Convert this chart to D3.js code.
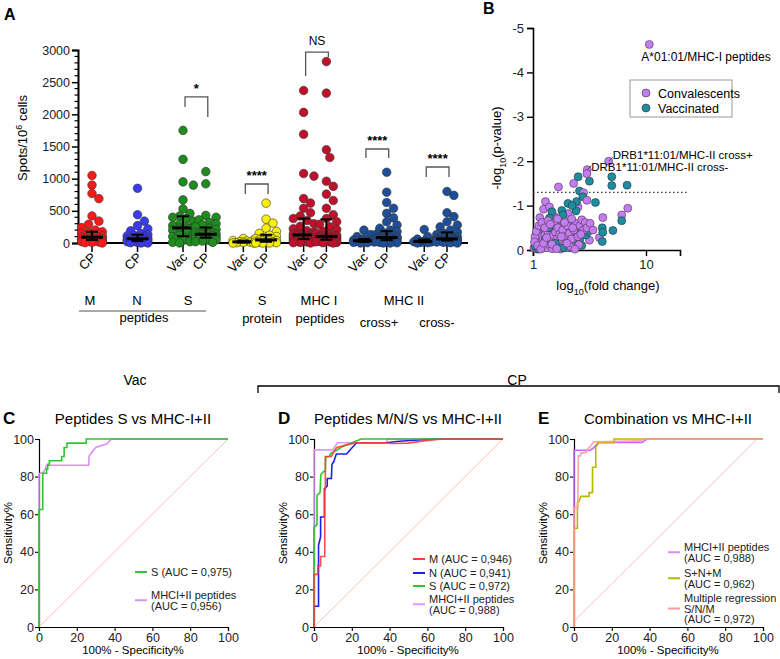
<!DOCTYPE html>
<html><head><meta charset="utf-8">
<script src="https://cdn.jsdelivr.net/npm/d3@7"></script>
<style>body{margin:0;background:#fff} svg{font-family:Arial,"Liberation Sans",Helvetica,sans-serif}</style>
</head><body>
<svg id="fig" width="780" height="659"></svg>
<script>
// ---------------- DATA ----------------
// Panel A columns
const colLabels = ["CP","CP","Vac","CP","Vac","CP","Vac","CP","Vac","CP","Vac","CP"];
const colGroups = ["M","N","S","S","Sp","Sp","I","I","IIp","IIp","IIm","IIm"];
const colColors = ["#ff1a1a","#3a3af2","#1e8c1e","#1e8c1e","#f7f000","#f7f000","#c0112b","#c0112b","#1d4f99","#1d4f99","#1d4f99","#1d4f99"];
const spotsM_CP = [1050,900,770,690,420,340,290,240,200,175,160,150,140,130,120,110,100,95,90,85,80,75,70,65,60,55,50,45,40,35,30,25,20,15,10,5,0];
const spotsN_CP = [850,440,340,270,220,190,150,130,120,110,100,90,80,70,65,60,55,50,45,40,35,30,25,20,15,10,5,0,0];
const spotsS_Vac = [1750,1300,950,900,670,530,460,420,400,380,340,300,270,250,240,230,225,220,200,180,150,120,100,80,70,60,40,20,10,0];
const spotsS_CP = [1110,920,430,400,360,320,300,280,250,230,210,190,170,160,150,145,140,135,130,125,120,110,100,95,90,85,80,75,70,60,50,40,30,20,10];
const spotsSp_Vac = [70,50,40,30,20,15,10,5,0,0];
const spotsSp_CP = [620,370,310,230,180,150,120,100,80,70,60,50,45,40,35,30,25,20,15,10,5,0,0,0];
const spotsI_Vac = [2370,2030,1690,1080,1040,690,620,540,470,420,380,350,300,260,220,190,170,150,140,130,125,120,110,105,100,90,85,80,70,65,60,50,45,40,30,25,20,15,10,5,0];
const spotsI_CP = [2820,2330,1450,1330,960,880,760,660,540,440,380,330,290,250,210,180,150,130,120,110,105,100,95,90,85,80,75,70,65,60,55,50,45,40,35,30,25,20,15,10,5,0];
const spotsIIp_Vac = [200,130,100,70,55,45,40,35,30,25,20,15,10,5,0];
const spotsIIp_CP = [1100,790,630,540,460,390,330,280,230,200,180,160,140,120,110,100,95,90,88,85,82,80,78,75,70,65,60,55,50,45,40,35,30,25,20,15,10,5,0,0];
const spotsIIm_Vac = [210,100,60,40,30,20,15,10,5,0];
const spotsIIm_CP = [800,740,470,410,330,280,250,200,170,150,130,110,95,85,75,70,65,62,60,58,55,50,48,45,40,38,35,30,25,20,15,10,5,0];
const spotsAll = [spotsM_CP,spotsN_CP,spotsS_Vac,spotsS_CP,spotsSp_Vac,spotsSp_CP,spotsI_Vac,spotsI_CP,spotsIIp_Vac,spotsIIp_CP,spotsIIm_Vac,spotsIIm_CP];
const spotTicks = [0,500,1000,1500,2000,2500,3000];
// significance brackets: [left col, right col], label, top value, left leg end, right leg end
const bracketCols = [[2,3],[4,5],[6,7],[8,9],[10,11]];
const bracketLabels = ["*","****","NS","****","****"];
const bracketTop = [2270,917,2968,1461,1181];
const bracketLegL = [2113,761,2595,1321,1026];
const bracketLegR = [1958,761,2890,1321,1026];

// Panel B: [fold change, log10 p (negative)]
const convalescents = [[10.7,-4.63],[4.68,-2.0],[3.02,-1.81],[3.0,-1.72],[2.29,-1.5],[1.68,-1.42],[2.8,-1.29],[3.0,-1.12],[2.5,-0.97],[4.15,-0.73],[6.1,-0.79],[6.9,-0.94],[3.87,-0.28],[3.16,-0.22],[1.29,-1.09],[1.24,-0.92],[1.40,-0.97],[1.55,-0.75],[2.04,-0.82],[1.15,-0.73],
[1.02,-0.05],[1.05,-0.12],[1.08,-0.02],[1.1,-0.2],[1.12,-0.08],[1.15,-0.15],[1.18,-0.3],[1.2,-0.04],[1.22,-0.22],[1.25,-0.1],[1.28,-0.35],[1.3,-0.18],[1.33,-0.05],[1.35,-0.42],[1.38,-0.27],[1.4,-0.12],[1.43,-0.5],[1.45,-0.2],[1.48,-0.03],[1.5,-0.33],[1.53,-0.6],[1.55,-0.15],[1.58,-0.4],[1.6,-0.08],[1.63,-0.25],[1.66,-0.5],[1.7,-0.12],[1.72,-0.35],[1.75,-0.02],[1.8,-0.2],[1.83,-0.45],[1.86,-0.1],[1.9,-0.3],[1.95,-0.05],[2.0,-0.55],[2.05,-0.18],[2.1,-0.38],[2.15,-0.08],[2.2,-0.25],[2.3,-0.45],[2.4,-0.6],[2.5,-0.3],[2.6,-0.55],[2.7,-0.68],[2.8,-0.45],[2.9,-0.62],[3.0,-0.5],[2.55,-0.12],[2.35,-0.02],[1.04,-0.3],[1.07,-0.42],[1.13,-0.55],[1.2,-0.62],[1.27,-0.5],[1.36,-0.66],[1.42,-0.58],[1.65,-0.7],[1.9,-0.62],[2.2,-0.7],[1.03,-0.18],[1.1,-0.1],[1.17,-0.02],[1.24,-0.15],[1.32,-0.28],[1.47,-0.13],[1.62,-0.03],[1.78,-0.3],[2.0,-0.15],[2.25,-0.5],[2.65,-0.35],[3.2,-0.6],[3.4,-0.45]];
const vaccinated = [[2.51,-1.65],[3.16,-1.55],[4.98,-1.65],[4.98,-1.45],[6.8,-1.46],[2.58,-1.33],[2.76,-1.2],[3.57,-1.07],[2.43,-1.09],[2.4,-0.88],[2.04,-1.05],[2.22,-1.0],[6.1,-0.66],[5.1,-0.44],[4.1,-0.5],[4.15,-0.4],[4.1,-0.19],[2.95,-0.34],[1.47,-0.86],[1.8,-0.89],[1.84,-0.79],[1.07,-0.37],
[1.05,-0.08],[1.1,-0.25],[1.15,-0.45],[1.2,-0.1],[1.25,-0.6],[1.3,-0.35],[1.35,-0.15],[1.4,-0.72],[1.45,-0.4],[1.5,-0.05],[1.55,-0.55],[1.6,-0.28],[1.65,-0.42],[1.7,-0.62],[1.75,-0.18],[1.8,-0.5],[1.9,-0.4],[2.0,-0.28],[2.05,-0.62],[2.1,-0.05],[2.2,-0.4],[2.3,-0.2],[2.45,-0.5],[2.6,-0.25],[2.7,-0.1],[2.85,-0.55],[3.1,-0.42],[1.12,-0.02],[1.28,-0.22],[1.38,-0.5],[1.58,-0.15],[1.85,-0.05]];
const pThreshold = -1.3;
const annotLabels = ["A*01:01/MHC-I peptides","DRB1*11:01/MHC-II cross+","DRB1*11:01/MHC-II cross-"];
const annotPoints = [[10.7,-4.63],[4.68,-2.0],[3.02,-1.81]];
const pTicks = [0,-1,-2,-3,-4,-5];
const fcTicks = [1,10];

// ROC curves [100-specificity, sensitivity]
const rocC_S = [[0,0],[0,62.5],[2,62.5],[2,81.8],[4,81.8],[4,84],[4.6,84],[4.6,86.5],[5.5,86.5],[5.5,88.4],[12,88.4],[12,90.7],[13.3,90.7],[13.3,95.5],[14.8,95.5],[14.8,97.8],[25,97.8],[25,100],[100,100]];
const rocC_MHC = [[0,0],[0,81.5],[2.5,82.5],[3.5,84.5],[4,86],[26.3,86],[26.5,91],[30,95.5],[36,97.5],[38.4,100],[100,100]];
const rocD_M = [[0,0],[0,28],[2,28],[2,32.5],[3.5,32.5],[3.5,37.5],[5.7,37.5],[5.7,73],[6,73],[6,90.7],[9.2,90.7],[10.6,93.4],[12,95.5],[18,97],[22,98],[38,98],[41,97.6],[50,97.8],[58,99],[68,100],[100,100]];
const rocD_N = [[0,0],[0,11],[2.4,11],[2.4,43.5],[3.5,48],[3.5,58.5],[5.5,58.5],[5.5,73.5],[7,75],[7,79],[9.2,79],[9.5,86.5],[10.5,88],[11.8,92],[17.2,92],[22.5,98],[38,98],[45,98.8],[55,99.5],[65,100],[100,100]];
const rocD_S = [[0,0],[0,53],[1.6,54.5],[1.6,70],[3.2,71.5],[3.6,81],[5,82.7],[6,82.7],[6.2,90.5],[8,90.7],[9,92.5],[12,94],[15,96],[20,98],[25,100],[100,100]];
const rocD_MHC = [[0,0],[0,94.2],[10,94.2],[12.3,98],[38.5,98],[38.5,100],[100,100]];
const rocE_MHC = [[0,0],[0,94],[8.5,94],[10.3,95.2],[12.9,98.2],[36,98.2],[38.6,100],[100,100]];
const rocE_SNM = [[0,0],[0,52.5],[1.8,52.5],[1.8,66],[2.8,67],[3.6,69.5],[8,69.5],[8,71.5],[9.8,71.5],[9.8,85],[11.5,85],[11.5,95.5],[12.4,97],[13,98],[21.2,98],[21.2,100],[100,100]];
const rocE_MR = [[0,0],[0,63.5],[2,63.5],[2.3,91],[3.5,91],[3.7,92.5],[6.5,93],[7.5,95],[9,96.5],[10.5,98.5],[12,98.5],[35,99],[36.8,100],[100,100]];
const rocTicks = [0,20,40,60,80,100];

// ---------------- DRAW ----------------
const svg = d3.select("#fig");
const FONT = 'Arial,"Liberation Sans",sans-serif';

// ===== Panel A =====
const gA = svg.append("g");
gA.append("text").attr("x",4).attr("y",20).attr("font-size",16).attr("font-weight","bold").text("A");
const yA = d3.scaleLinear().domain([0,3000]).range([243,50]);
const slots = []; let s = 0;
colGroups.forEach((g,i)=>{
  if(i>0){
    if(g===colGroups[i-1]) s+=1;
    else { const prevSingle = (i<2 || colGroups[i-2]!==colGroups[i-1]); s += prevSingle?2:1.65; }
  }
  slots.push(s);
});
const xA = d3.scaleLinear().domain([0, slots[slots.length-1]]).range([92,447]);

const yAxisA = d3.axisLeft(yA).tickValues(spotTicks).tickFormat(d=>String(d)).tickSize(6).tickPadding(2);
const gyA = gA.append("g").attr("transform","translate(78,0)").call(yAxisA);
gyA.select(".domain").attr("stroke-width",2);
gyA.selectAll(".tick line").attr("stroke-width",1.5);
gyA.selectAll(".tick text").attr("font-size",12.5).attr("font-family",FONT).attr("fill","#222");
gA.append("g").selectAll("line").data(d3.range(0,3001,100).filter(v=>v%500)).join("line")
  .attr("x1",78).attr("x2",74.5).attr("y1",d=>yA(d)).attr("y2",d=>yA(d)).attr("stroke","#000").attr("stroke-width",1.2);
gA.append("line").attr("x1",77).attr("x2",468).attr("y1",yA(0)).attr("y2",yA(0)).attr("stroke","#000").attr("stroke-width",2.2);
gA.append("text").attr("transform","translate(27,138) rotate(-90)").attr("text-anchor","middle").attr("font-size",13)
  .html('Spots/10<tspan baseline-shift="super" font-size="9">6</tspan> cells');

function swarm(vals, r){
  const placed=[], out=[];
  vals.slice().sort((a,b)=>b-a).forEach(v=>{
    const y=yA(v);
    let best=0, bestScore=-1;
    for(let k=0;k<15;k++){
      const c = k===0?0:(k%2?1:-1)*Math.ceil(k/2)*r*0.8;
      if(Math.abs(c)>12) break;
      let md = Infinity;
      placed.forEach(p=>{ const d=Math.hypot(p.dx-c,p.y-y); if(d<md) md=d; });
      if(md>=2*r*0.9){ best=c; bestScore=Infinity; break; }
      if(md>bestScore){ bestScore=md; best=c; }
    }
    placed.push({dx:best,y}); out.push({v,dx:best,y});
  });
  return out;
}
const rA = 4.3;
spotsAll.forEach((vals,i)=>{
  const cx = xA(slots[i]);
  gA.append("line").attr("x1",cx).attr("x2",cx).attr("y1",yA(0)).attr("y2",yA(0)+9).attr("stroke","#000").attr("stroke-width",1.5);
  const pts = swarm(vals, rA);
  gA.append("g").selectAll("circle").data(pts).join("circle")
    .attr("cx",d=>cx+d.dx).attr("cy",d=>d.y).attr("r",rA)
    .attr("fill",colColors[i]).attr("stroke","#333").attr("stroke-width",0.6);
  const sorted = vals.slice().sort(d3.ascending);
  const med = d3.quantile(sorted,0.5), q1=d3.quantile(sorted,0.25), q3=d3.quantile(sorted,0.75);
  const gm = gA.append("g").attr("stroke","#000");
  gm.append("line").attr("x1",cx).attr("x2",cx).attr("y1",yA(q1)).attr("y2",yA(q3)).attr("stroke-width",2);
  gm.append("line").attr("x1",cx-11).attr("x2",cx+11).attr("y1",yA(med)).attr("y2",yA(med)).attr("stroke-width",3);
  [q1,q3].forEach(q=>gm.append("line").attr("x1",cx-6).attr("x2",cx+6).attr("y1",yA(q)).attr("y2",yA(q)).attr("stroke-width",2));
  gA.append("text").attr("transform",`translate(${cx+5},${yA(0)+15}) rotate(-45)`).attr("text-anchor","end")
    .attr("font-size",13).text(colLabels[i]);
});
bracketCols.forEach((bc,i)=>{
  const xl = xA(slots[bc[0]])+2, xr = xA(slots[bc[1]])+2;
  gA.append("path").attr("d",`M${xl},${yA(bracketLegL[i])}V${yA(bracketTop[i])}H${xr}V${yA(bracketLegR[i])}`)
    .attr("fill","none").attr("stroke","#555").attr("stroke-width",1.3);
  gA.append("text").attr("x",(xl+xr)/2).attr("y",yA(bracketTop[i])-(bracketLabels[i]==="NS"?7:4)).attr("text-anchor","middle")
    .attr("font-size",bracketLabels[i]==="NS"?12:13).attr("font-weight",bracketLabels[i]==="NS"?"normal":"bold").text(bracketLabels[i]);
});
const gl = [["M",90,305],["N",137,305],["S",188,305],["S",262,305],["protein",262,323],["MHC I",319,305],["peptides",320,323],["MHC II",404,305],["cross+",379,327],["cross-",437,327],["peptides",144,322]];
gl.forEach(d=>gA.append("text").attr("x",d[1]).attr("y",d[2]).attr("text-anchor","middle").attr("font-size",13).text(d[0]));
gA.append("line").attr("x1",79).attr("x2",206).attr("y1",311).attr("y2",311).attr("stroke","#555").attr("stroke-width",1.2);

// ===== Panel B =====
const gB = svg.append("g");
gB.append("text").attr("x",483).attr("y",14).attr("font-size",16).attr("font-weight","bold").text("B");
const xB = d3.scaleLog().domain([1,20]).range([533,680]);
const yB = d3.scaleLinear().domain([0,-5]).range([250,28]);
const gyB = gB.append("g").attr("transform","translate(533,0)").call(d3.axisLeft(yB).tickValues(pTicks).tickFormat(d=>String(d)).tickSize(6).tickPadding(3));
gyB.select(".domain").attr("stroke-width",1.6);
gyB.selectAll(".tick line").attr("stroke-width",1.4);
gyB.selectAll(".tick text").attr("font-size",13).attr("font-family",FONT).attr("fill","#222");
const gxB = gB.append("g").attr("transform","translate(0,250)").call(d3.axisBottom(xB).tickValues(fcTicks).tickFormat(d=>String(d)).tickSize(6).tickPadding(4));
gxB.select(".domain").attr("stroke-width",1.6);
gxB.selectAll(".tick line").attr("stroke-width",1.4);
gxB.selectAll(".tick text").attr("font-size",13).attr("font-family",FONT).attr("fill","#222");
gB.append("text").attr("transform","translate(501,148) rotate(-90)").attr("text-anchor","middle").attr("font-size",13)
  .html('-log<tspan baseline-shift="sub" font-size="9">10</tspan>(p-value)');
gB.append("text").attr("x",608).attr("y",290).attr("text-anchor","middle").attr("font-size",13)
  .html('log<tspan baseline-shift="sub" font-size="9">10</tspan>(fold change)');
gB.append("line").attr("x1",533).attr("x2",687).attr("y1",yB(pThreshold)).attr("y2",yB(pThreshold))
  .attr("stroke","#333").attr("stroke-dasharray","1.5,2.5").attr("stroke-width",1.3);
const cConv = "#c17ef2", cVac = "#1e8d9e";
// interleave the two series in drawing order
const bPts = [];
const nMax = Math.max(convalescents.length, vaccinated.length);
for(let i=0;i<nMax;i++){
  if(i<convalescents.length) bPts.push({d:convalescents[i],c:cConv,s:"#534"});
  if(i<vaccinated.length) bPts.push({d:vaccinated[i],c:cVac,s:"#234"});
}
gB.append("g").selectAll("circle").data(bPts).join("circle")
  .attr("cx",p=>xB(p.d[0])).attr("cy",p=>yB(p.d[1])).attr("r",4).attr("fill",p=>p.c).attr("stroke",p=>p.s).attr("stroke-width",0.6);
gB.append("text").attr("x",xB(annotPoints[0][0])-8).attr("y",yB(annotPoints[0][1])+17).attr("font-size",12).text(annotLabels[0]);
[[1,-2],[2,1.5]].forEach(([i,dy])=>{
  const px=xB(annotPoints[i][0]), py=yB(annotPoints[i][1]);
  gB.append("line").attr("x1",px).attr("y1",py).attr("x2",px+4).attr("y2",py-4).attr("stroke","#333").attr("stroke-width",0.8);
  gB.append("text").attr("x",px+4).attr("y",py+dy).attr("font-size",11.5).text(annotLabels[i]);
});
gB.append("rect").attr("x",630).attr("y",80).attr("width",102).attr("height",37).attr("fill","#fff").attr("stroke","#999").attr("stroke-width",1);
[["Convalescents",cConv,93],["Vaccinated",cVac,108]].forEach(d=>{
  gB.append("circle").attr("cx",646).attr("cy",d[2]).attr("r",4).attr("fill",d[1]).attr("stroke","#333").attr("stroke-width",0.6);
  gB.append("text").attr("x",658).attr("y",d[2]+4.5).attr("font-size",12.5).text(d[0]);
});

// ===== Vac / CP header =====
svg.append("text").attr("x",135).attr("y",385).attr("text-anchor","middle").attr("font-size",14).text("Vac");
svg.append("text").attr("x",517).attr("y",385).attr("text-anchor","middle").attr("font-size",14).text("CP");
svg.append("path").attr("d","M258,393V386H779V393").attr("fill","none").attr("stroke","#000").attr("stroke-width",1.3);

// ===== ROC panels =====
function rocPanel(x0, letter, title, curves, legend, diag){
  const g = svg.append("g");
  const x = d3.scaleLinear().domain([0,100]).range([x0,x0+189]);
  const y = d3.scaleLinear().domain([0,100]).range([627,439]);
  g.append("text").attr("x",x0-36).attr("y",424).attr("font-size",17).attr("font-weight","bold").text(letter);
  g.append("text").attr("x",x0+94).attr("y",424).attr("text-anchor","middle").attr("font-size",15).text(title);
  const gx = g.append("g").attr("transform","translate(0,627)").call(d3.axisBottom(x).tickValues(rocTicks).tickSize(4).tickPadding(2));
  const gy = g.append("g").attr("transform",`translate(${x0},0)`).call(d3.axisLeft(y).tickValues(rocTicks).tickSize(4).tickPadding(1));
  [gx,gy].forEach(a=>{a.select(".domain").attr("stroke-width",1.2); a.selectAll(".tick line").attr("stroke-width",1.1);
    a.selectAll(".tick text").attr("font-size",12.5).attr("font-family",FONT).attr("fill","#222");});
  g.append("text").attr("x",x0+94).attr("y",654).attr("text-anchor","middle").attr("font-size",11.5).text("100% - Specificity%");
  g.append("text").attr("transform",`translate(${x0-27},533) rotate(-90)`).attr("text-anchor","middle").attr("font-size",11.5).text("Sensitivity%");
  g.append("line").attr("x1",x(diag[0][0])).attr("y1",y(diag[0][1])).attr("x2",x(diag[1][0])).attr("y2",y(diag[1][1]))
    .attr("stroke","#f7b5b5").attr("stroke-width",0.9);
  const line = d3.line().x(d=>x(d[0])).y(d=>y(d[1]));
  curves.forEach(c=>g.append("path").attr("d",line(c.data)).attr("fill","none").attr("stroke",c.color).attr("stroke-width",c.w||1.6).attr("stroke-opacity",c.op||1));
  legend.forEach(l=>{
    const my = l.y + (l.lines.length-1)*10.5/2;
    g.append("line").attr("x1",l.x).attr("x2",l.x+12).attr("y1",my).attr("y2",my).attr("stroke",l.color).attr("stroke-width",2);
    l.lines.forEach((t,j)=>g.append("text").attr("x",l.x+16).attr("y",l.y+j*10.5+4).attr("font-size",11).attr("fill","#222").text(t));
  });
}
rocPanel(39,"C","Peptides S vs MHC-I+II",
  [{data:rocC_MHC,color:"#d890f5"},{data:rocC_S,color:"#33c433"}],
  [{x:135,y:572,color:"#33c433",lines:["S (AUC = 0,975)"]},{x:135,y:595,color:"#d890f5",lines:["MHCI+II peptides","(AUC = 0,956)"]}],
  [[0,0],[100,100]]);
rocPanel(314,"D","Peptides M/N/S vs MHC-I+II",
  [{data:rocD_MHC,color:"#dd99f8"},{data:rocD_N,color:"#2020ee"},{data:rocD_S,color:"#2fc42f"},{data:rocD_M,color:"#ff3b3b",op:0.9}],
  [{x:413,y:559,color:"#ff3b3b",lines:["M (AUC = 0,946)"]},{x:413,y:573,color:"#2020ee",lines:["N (AUC = 0,941)"]},{x:413,y:586,color:"#2fc42f",lines:["S (AUC = 0,972)"]},{x:413,y:599,color:"#dd99f8",lines:["MHCI+II peptides","(AUC = 0,988)"]}],
  [[0,0],[100,100]]);
rocPanel(574,"E","Combination vs MHC-I+II",
  [{data:rocE_MHC,color:"#cc66ff"},{data:rocE_SNM,color:"#b8b800"},{data:rocE_MR,color:"#ff9a9a",op:0.9}],
  [{x:668,y:547,color:"#dd88ff",lines:["MHCI+II peptides","(AUC = 0,988)"]},{x:668,y:573,color:"#b8b800",lines:["S+N+M","(AUC = 0,962)"]},{x:668,y:598,color:"#ff9a9a",lines:["Multiple regression","S/N/M","(AUC = 0,972)"]}],
  [[0,3],[97,100]]);
</script>
</body></html>
